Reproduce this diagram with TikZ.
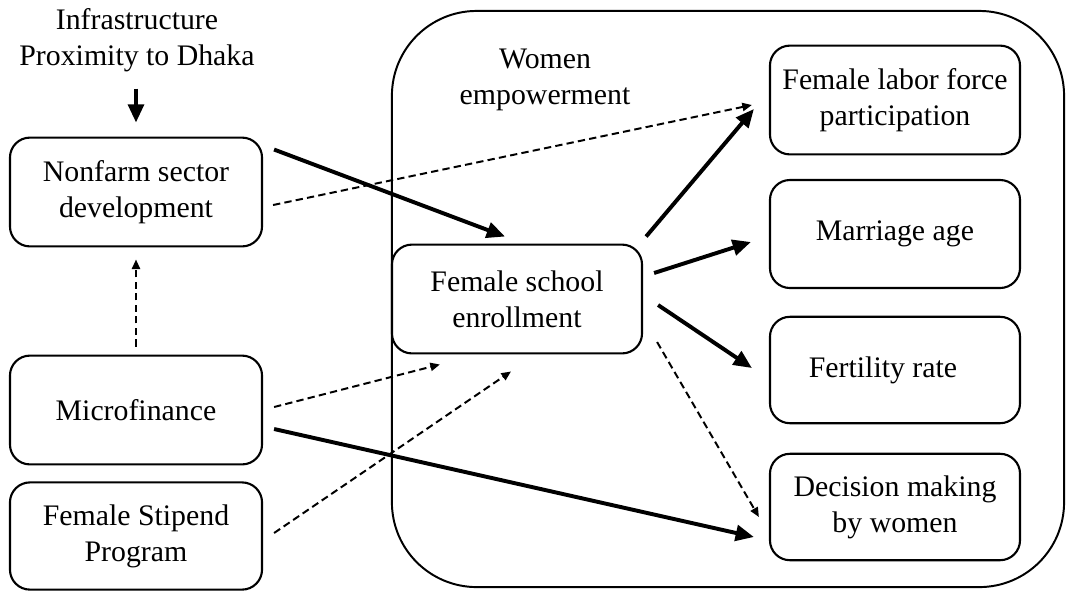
\documentclass[tikz,border=0pt]{standalone}
\usepackage{fontspec}
\setmainfont{Liberation Serif}
\usetikzlibrary{arrows.meta}

\begin{document}
\begin{tikzpicture}[x=0.0125cm,y=-0.0125cm,
  every node/.style={font=\fontsize{10.6}{12.8}\selectfont, inner sep=0pt, align=center},
  box/.style={draw, line width=0.75pt, rounded corners=0.25cm, minimum width=3.15cm, minimum height=1.36cm},
  frame/.style={draw, line width=0.7pt, rounded corners=1.06cm, minimum width=8.4cm, minimum height=7.2cm},
  boldarrow/.style={line width=1.4pt, -{Triangle[length=6.5pt,width=5.6pt]}},
  dasharrow/.style={line width=0.7pt, dash pattern=on 2.6pt off 1.5pt, -{Triangle[length=3.4pt,width=2.9pt]}}]
\useasboundingbox (0,0) rectangle (1067,592);
\node [frame] (empower) at (728,299) {};
\node (womenlbl) at (545,80) {Women\\empowerment};
\node (infra) at (137,40) {Infrastructure\\Proximity to Dhaka};
\node [box] (nonfarm) at (136,192) {Nonfarm sector\\development};
\node [box] (micro) at (136,410) {Microfinance};
\node [box, minimum height=1.34cm] (stipend) at (136,536) {Female Stipend\\Program};
\node [box, minimum width=3.125cm] (school) at (517,299) {Female school\\enrollment};
\node [box, minimum width=3.125cm] (labor) at (895,100) {Female labor force\\participation};
\node [box, minimum width=3.125cm, minimum height=1.35cm] (marriage) at (895,234) {Marriage age};
\node [box, minimum width=3.125cm, minimum height=1.33cm] (fertility) at (895,370) {Fertility rate\hspace*{0.3cm}};
\node [box, minimum width=3.125cm, minimum height=1.33cm] (decision) at (895,507) {Decision making\\by women};
\draw [boldarrow] ([shift={(0,-48)}]nonfarm.north) -- ([shift={(0,-14)}]nonfarm.north);
\draw [boldarrow] ([shift={(11,13)}]nonfarm.north east) -- ([shift={(-12,-7)}]school.north);
\draw [dasharrow] ([shift={(10,13)}]nonfarm.east) -- ([shift={(-17,5)}]labor.west);
\draw [dasharrow] ([shift={(0,-8)}]micro.north) -- ([shift={(0,12)}]nonfarm.south);
\draw [dasharrow] ([shift={(11,-3)}]micro.east) -- ([shift={(49,10)}]school.south west);
\draw [boldarrow] ([shift={(11,19)}]micro.east) -- ([shift={(-15,30)}]decision.west);
\draw [dasharrow] ([shift={(11,-3)}]stipend.east) -- ([shift={(-6,17)}]school.south);
\draw [boldarrow] ([shift={(3,-7)}]school.north east) -- ([shift={(-15,9)}]labor.west);
\draw [boldarrow] ([shift={(11,-26)}]school.east) -- ([shift={(-18,8)}]marriage.west);
\draw [boldarrow] ([shift={(15,6)}]school.east) -- ([shift={(-17,-2)}]fertility.west);
\draw [dasharrow] ([shift={(14,43)}]school.east) -- ([shift={(-10,10)}]decision.west);
\end{tikzpicture}
\end{document}
